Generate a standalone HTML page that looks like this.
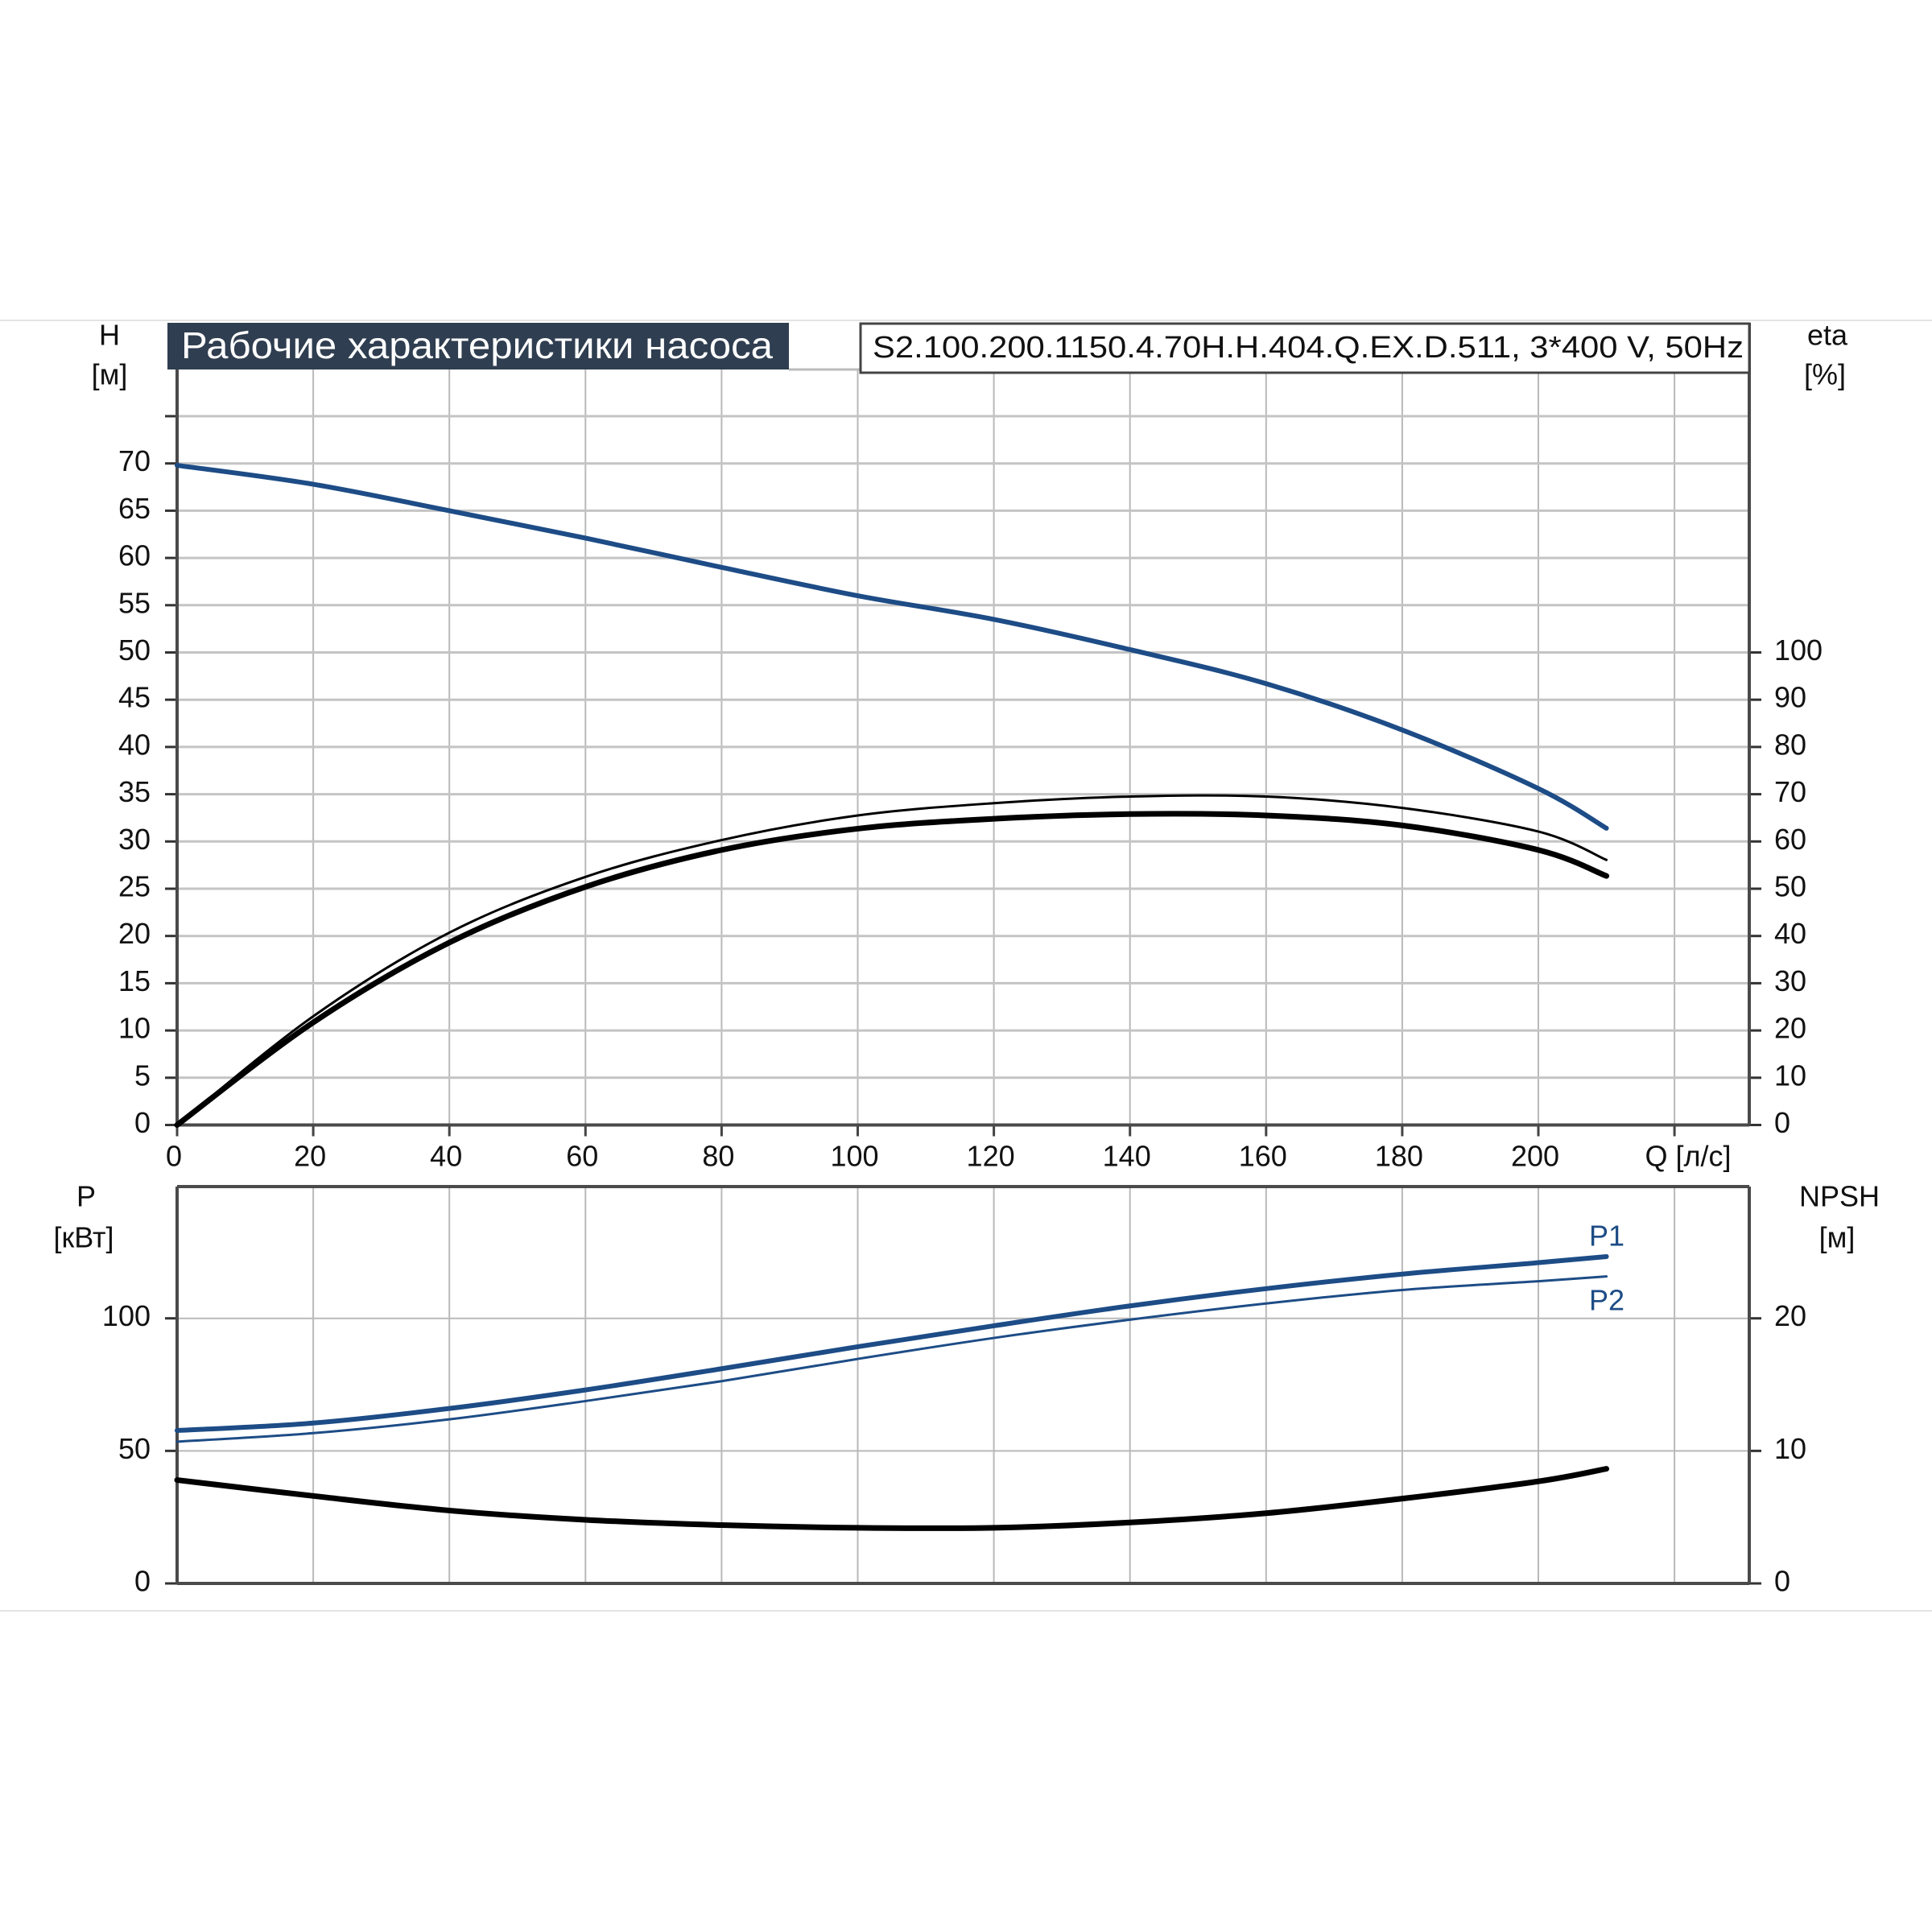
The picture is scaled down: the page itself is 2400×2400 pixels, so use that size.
<!DOCTYPE html>
<html><head><meta charset="utf-8"><style>
html,body{margin:0;padding:0;background:#fff;}
svg{display:block;font-family:"Liberation Sans","DejaVu Sans",sans-serif;}
</style></head><body>
<svg id="chart" width="2400" height="2400" viewBox="0 0 2400 2400" xmlns="http://www.w3.org/2000/svg">
<line x1="0" y1="398" x2="2400" y2="398" stroke="#e4e4e4" stroke-width="2"/>
<line x1="0" y1="2001" x2="2400" y2="2001" stroke="#e4e4e4" stroke-width="2"/>
<g id="grid"></g>
<g id="curves"></g>
<g id="labels"></g>
<rect x="208" y="401" width="772" height="58" fill="#2f3e50"/>
<text x="225" y="445" fill="#fff" font-size="46" textLength="735" lengthAdjust="spacingAndGlyphs">Рабочие характеристики насоса</text>
<rect x="1069" y="402" width="1104" height="61" fill="#fff" stroke="#444" stroke-width="3"/>
<text x="1084" y="444" fill="#111" font-size="38" textLength="1082" lengthAdjust="spacingAndGlyphs">S2.100.200.1150.4.70H.H.404.Q.EX.D.511, 3*400 V, 50Hz</text>
</svg>
<script>
// data
const qTicks = [0,20,40,60,80,100,120,140,160,180,200];
const hTicks = [0,5,10,15,20,25,30,35,40,45,50,55,60,65,70];
const etaTicks = [0,10,20,30,40,50,60,70,80,90,100];
const pTicks = [0,50,100];
const npshTicks = [0,10,20];
const qPts = [0,20,40,60,80,100,120,140,160,180,200,210];
const headH = [69.8,67.8,65,62.1,59,56,53.5,50.3,46.7,41.8,35.6,31.4];
const etaLower = [0,21.7,38.6,50.4,58.2,62.7,64.8,65.8,65.5,63.4,58.2,52.7];
const etaUpper = [0,23,40.7,52.5,60.3,65.5,68.1,69.5,69.5,67.1,62.1,56.1];
const p1 = [57.7,60.5,66,73,81,89.3,97.2,104.7,111.2,116.7,121,123.3];
const p2 = [53.5,56.7,61.9,68.8,76.3,84.7,92.6,99.5,105.6,110.7,114,115.8];
const npsh = [7.8,6.6,5.5,4.8,4.4,4.2,4.2,4.6,5.3,6.4,7.7,8.65];

const NS="http://www.w3.org/2000/svg";
const L=220, R=2173, TT=459, TB=1397.5, BT=1474, BB=1967;
const xq=q=>L+q*8.455;
const yH=h=>TB-h*11.74;
const yEta=e=>TB-e*5.87;
const yP=p=>BB-p*3.293;
const yN=n=>BB-n*16.465;
function mk(tag,attrs,parent){const e=document.createElementNS(NS,tag);for(const k in attrs)e.setAttribute(k,attrs[k]);document.getElementById(parent).appendChild(e);return e;}
function txt(x,y,s,anchor,size,fill,name){const t=mk('text',{x:x,y:y,'text-anchor':anchor,'font-size':size,fill:fill||'#111','dominant-baseline':'middle'},'labels');t.textContent=s;


return t;}
// grids
qTicks.concat([220]).forEach(q=>{
  const a=mk('line',{x1:xq(q),x2:xq(q),y1:TT,y2:TB,stroke:'#b9b9b9','stroke-width':2},'grid');
  
  
  const b=mk('line',{x1:xq(q),x2:xq(q),y1:BT,y2:BB,stroke:'#b9b9b9','stroke-width':2},'grid');
  
  
  const t=mk('line',{x1:xq(q),x2:xq(q),y1:TB,y2:TB+14,stroke:'#444','stroke-width':3},'grid');
  
  
});
hTicks.concat([75]).forEach(h=>{
  const g=mk('line',{x1:L,x2:R,y1:yH(h),y2:yH(h),stroke:'#c4c4c4','stroke-width':3},'grid');
  
  
  const t=mk('line',{x1:L-15,x2:L,y1:yH(h),y2:yH(h),stroke:'#333','stroke-width':3},'grid');
  
  
});
etaTicks.forEach(e=>{
  const t=mk('line',{x1:R,x2:R+15,y1:yEta(e),y2:yEta(e),stroke:'#333','stroke-width':3},'grid');
  
  
});
pTicks.forEach(p=>{
  const g=mk('line',{x1:L,x2:R,y1:yP(p),y2:yP(p),stroke:'#b9b9b9','stroke-width':2},'grid');
  
  
  const t=mk('line',{x1:L-15,x2:L,y1:yP(p),y2:yP(p),stroke:'#333','stroke-width':3},'grid');
  
  
});
npshTicks.forEach(n=>{
  const t=mk('line',{x1:R,x2:R+15,y1:yN(n),y2:yN(n),stroke:'#333','stroke-width':3},'grid');
  
  
});
// axes
[[L,TT,L,TB],[R,401,R,TB],[L,TB,R,TB],[L,BT,R,BT],[L,BT,L,BB],[R,BT,R,BB],[L,BB,R,BB]].forEach(a=>{
  const l=mk('line',{x1:a[0],y1:a[1],x2:a[2],y2:a[3],stroke:'#4a4a4a','stroke-width':4},'grid');
  
  
});
const tb=mk('line',{x1:980,y1:TT,x2:1069,y2:TT,stroke:'#bbb','stroke-width':3},'grid');


// curves
function path(ys,fy){
  const pts=qPts.map((q,i)=>[xq(q),fy(ys[i])]);
  let d='M'+pts[0][0]+','+pts[0][1];
  for(let i=0;i<pts.length-1;i++){
    const p0=pts[Math.max(0,i-1)],p1=pts[i],p2=pts[i+1],p3=pts[Math.min(pts.length-1,i+2)];
    const c1=[p1[0]+(p2[0]-p0[0])/6,p1[1]+(p2[1]-p0[1])/6];
    const c2=[p2[0]-(p3[0]-p1[0])/6,p2[1]-(p3[1]-p1[1])/6];
    d+=' C'+c1[0]+','+c1[1]+' '+c2[0]+','+c2[1]+' '+p2[0]+','+p2[1];
  }
  return d;
}
function curve(ys,fy,color,w,name){
  const p=mk('path',{d:path(ys,fy),fill:'none',stroke:color,'stroke-width':w,'stroke-linecap':'round'},'curves');
  
  
}
curve(headH,yH,'#1d4c86',6,'head-curve');
curve(etaUpper,yEta,'#000',3,'efficiency-upper-curve');
curve(etaLower,yEta,'#000',7,'efficiency-lower-curve');
curve(p1,yP,'#1d4c86',6,'p1-curve');
curve(p2,yP,'#1d4c86',3,'p2-curve');
curve(npsh,yN,'#000',7,'npsh-curve');
// labels
hTicks.forEach(h=>txt(187,yH(h),String(h),'end',36,'#111','h-tick-label'));
etaTicks.forEach(e=>txt(2204,yEta(e),String(e),'start',36,'#111','eta-tick-label'));
qTicks.forEach(q=>txt(xq(q)-4,1439,String(q),'middle',36,'#111','q-tick-label'));
pTicks.forEach(p=>txt(187,yP(p),String(p),'end',36,'#111','p-tick-label'));
npshTicks.forEach(n=>txt(2204,yN(n),String(n),'start',36,'#111','npsh-tick-label'));
txt(2097,1439,'Q [л/с]','middle',36,'#111','x-axis-title');
txt(136,419,'H','middle',36,'#111','h-axis-title');
txt(136,468,'[м]','middle',36,'#111','h-axis-unit');
txt(2270,419,'eta','middle',36,'#111','eta-axis-title');
txt(2267,468,'[%]','middle',36,'#111','eta-axis-unit');
txt(107,1489,'P','middle',36,'#111','p-axis-title');
txt(104,1540,'[кВт]','middle',36,'#111','p-axis-unit');
txt(2285,1489,'NPSH','middle',36,'#111','npsh-axis-title');
txt(2282,1540,'[м]','middle',36,'#111','npsh-axis-unit');
txt(1996,1538,'P1','middle',36,'#1d4c86','p1-label');
txt(1996,1618,'P2','middle',36,'#1d4c86','p2-label');
</script>
</body></html>
